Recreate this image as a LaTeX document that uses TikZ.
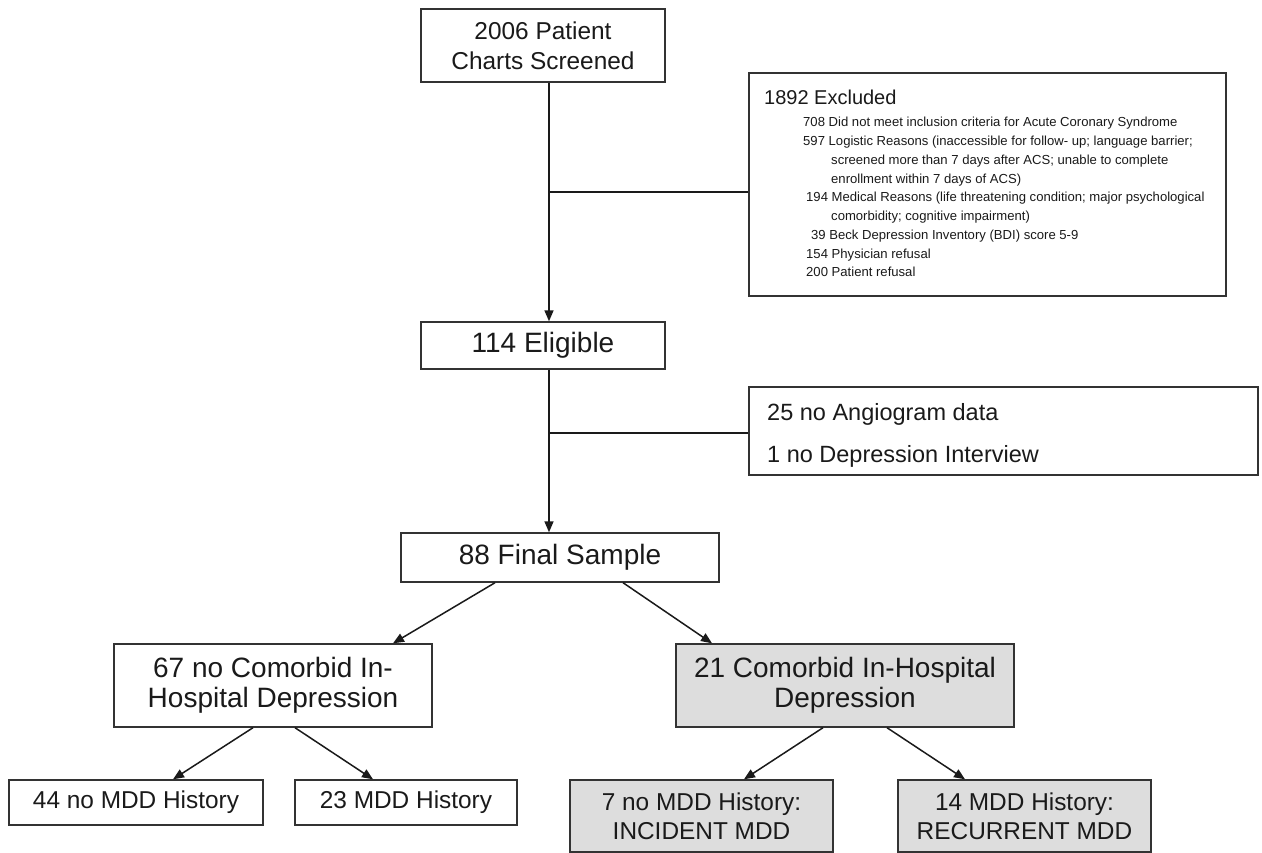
\documentclass[tikz,border=0pt]{standalone}
\usepackage{fontspec}
\setmainfont{Liberation Sans}
\usetikzlibrary{arrows.meta}
\definecolor{boxgray}{HTML}{DDDDDD}
\definecolor{ink}{HTML}{1A1A1A}
\definecolor{edge}{HTML}{333333}
\begin{document}
\begin{tikzpicture}[x=1pt,y=-1pt,
  box/.style={draw=edge, line width=1.4pt, fill=white, inner sep=0pt, align=center, text=ink},
  graybox/.style={box, fill=boxgray},
  conn/.style={draw=ink, line width=1.5pt},
  arr/.style={conn, -{Triangle[length=11pt,width=9pt]}},
  fTop/.style={font=\fontsize{24.4}{30}\selectfont},
  fMid/.style={font=\fontsize{28}{30}\selectfont},
  fBot/.style={font=\fontsize{24.4}{29}\selectfont},
  fExc/.style={font=\fontsize{23.5}{28}\selectfont, text=ink},
  fHead/.style={font=\fontsize{20}{24}\selectfont, text=ink, inner sep=0pt},
  fSmall/.style={font=\fontsize{13.1}{18}\selectfont, text=ink, inner sep=0pt},
]
\useasboundingbox (0,0) rectangle (1262,853);
\fill[white] (0,0) rectangle (1262,853);

% boxes
\node[box, fTop, minimum width=244pt, minimum height=73pt] (b1) at (543,45.5) {2006 Patient\\Charts Screened};
\node[box, minimum width=477pt, minimum height=223pt] (excl) at (987.5,184.5) {};
\node[box, fMid, minimum width=244pt, minimum height=47pt] (elig) at (543,345.5) {114 Eligible};
\node[box, minimum width=509pt, minimum height=88pt] (ex2) at (1003.5,431) {};
\node[box, fMid, minimum width=318pt, minimum height=49pt] (final) at (560,557.5) {88 Final Sample};
\node[box, fMid, minimum width=318pt, minimum height=83pt] (midL) at (273,685.5) {67 no Comorbid In-\\Hospital Depression};
\node[graybox, fMid, minimum width=338pt, minimum height=83pt] (midR) at (845,685.5) {21 Comorbid In-Hospital\\Depression};
\node[box, fBot, minimum width=254pt, minimum height=45pt] (b44) at (136,802.5) {44 no MDD History};
\node[box, fBot, minimum width=222pt, minimum height=45pt] (b23) at (406,802.5) {23 MDD History};
\node[graybox, fBot, minimum width=263pt, minimum height=72pt] (b7) at (701.5,816) {7 no MDD History:\\INCIDENT MDD};
\node[graybox, fBot, minimum width=253pt, minimum height=72pt] (b14) at (1024.5,816) {14 MDD History:\\RECURRENT MDD};

% excluded texts
\node[fHead, anchor=base west] (eh) at (764,105) {1892 Excluded};
\node[fSmall, anchor=base west] (e1) at (803,127) {708 Did not meet inclusion criteria for Acute Coronary Syndrome};
\node[fSmall, anchor=base west] (e2) at (803,145.75) {597 Logistic Reasons (inaccessible for follow- up; language barrier;};
\node[fSmall, anchor=base west] (e3) at (831,164.5) {screened more than 7 days after ACS; unable to complete};
\node[fSmall, anchor=base west] (e4) at (831,183.25) {enrollment within 7 days of ACS)};
\node[fSmall, anchor=base west] (e5) at (806,202) {194 Medical Reasons (life threatening condition; major psychological};
\node[fSmall, anchor=base west] (e6) at (831,220.75) {comorbidity; cognitive impairment)};
\node[fSmall, anchor=base west] (e7) at (811,239.5) {39 Beck Depression Inventory (BDI) score 5-9};
\node[fSmall, anchor=base west] (e8) at (806,258.25) {154 Physician refusal};
\node[fSmall, anchor=base west] (e9) at (806,277) {200 Patient refusal};

\node[fExc, anchor=base west, inner sep=0pt] (x1) at (767,420) {25 no Angiogram data};
\node[fExc, anchor=base west, inner sep=0pt] (x2) at (767,462) {1 no Depression Interview};

% connectors
\coordinate (j1) at (549,192);
\coordinate (j2) at (549,433);
\draw[arr] ([xshift=6pt]b1.south) -- ([xshift=6pt]elig.north);
\draw[conn] (j1) -- (j1 -| excl.west);
\draw[arr] ([xshift=6pt]elig.south) -- (final.north -| j2);
\draw[conn] (j2) -- (j2 -| ex2.west);

\draw[arr] ([xshift=-65pt]final.south) -- ([xshift=120pt]midL.north);
\draw[arr] ([xshift=63pt]final.south) -- ([xshift=-133pt]midR.north);
\draw[arr] ([xshift=-20pt]midL.south) -- ([xshift=37pt]b44.north);
\draw[arr] ([xshift=22pt]midL.south) -- ([xshift=-33pt]b23.north);
\draw[arr] ([xshift=-22pt]midR.south) -- ([xshift=42.5pt]b7.north);
\draw[arr] ([xshift=42pt]midR.south) -- ([xshift=-59.5pt]b14.north);
\end{tikzpicture}
\end{document}
